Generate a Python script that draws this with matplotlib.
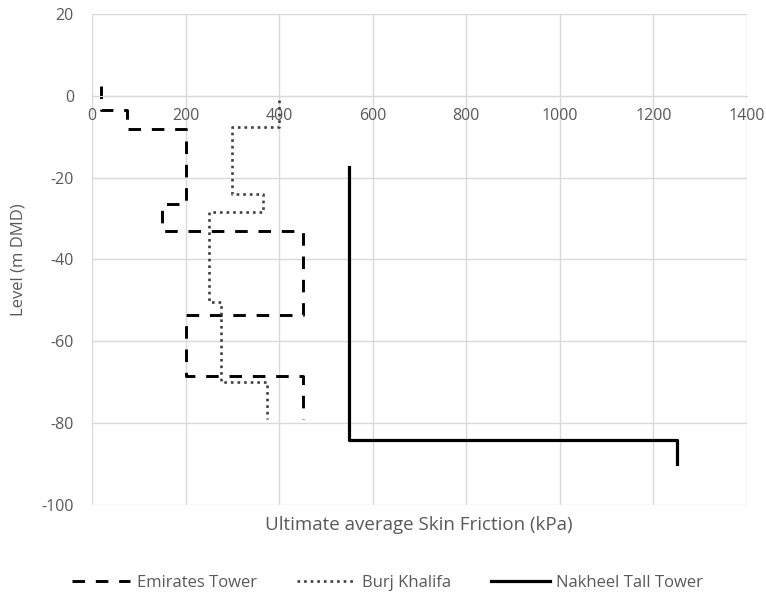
import matplotlib.pyplot as plt

# skin friction profiles (kPa) vs level (m DMD), stepped
emirates_x = [20, 20, 75, 75, 200, 200, 150, 150, 450, 450, 200, 200, 450, 450]
emirates_y = [2.5, -3.5, -3.5, -8, -8, -26.5, -26.5, -33, -33, -53.5, -53.5, -68.5, -68.5, -79]

burj_x = [400, 400, 300, 300, 365, 365, 250, 250, 275, 275, 375, 375]
burj_y = [-1, -7.5, -7.5, -24, -24, -28.5, -28.5, -50.5, -50.5, -70, -70, -79]

nakheel_x = [550, 550, 1250, 1250]
nakheel_y = [-17.5, -84, -84, -90]

grey = "#595959"
grid_c = "#d9d9d9"
plt.rcParams["font.family"] = ["Open Sans", "DejaVu Sans"]
plt.rcParams["axes.unicode_minus"] = False

fig = plt.figure(figsize=(7.66, 5.96), dpi=100)
ax = fig.add_axes([0.1201, 0.1527, 0.8551, 0.8238])

ax.plot(emirates_x, emirates_y, color="black", lw=2.1, dashes=(4.3, 3.7), label="Emirates Tower")
ax.plot(burj_x, burj_y, color="#404040", lw=1.9, dashes=(1.0, 1.5), label="Burj Khalifa")
ax.plot(nakheel_x, nakheel_y, color="black", lw=2.3, label="Nakheel Tall Tower")

ax.set_xlim(0, 1400)
ax.set_ylim(-100, 20)
ax.set_xticks(range(0, 1401, 200))
ax.set_yticks(range(-100, 21, 20))
ax.grid(True, color=grid_c, lw=1)
ax.set_axisbelow(True)
for s in ["top", "right", "left"]:
    ax.spines[s].set_visible(False)
ax.spines["bottom"].set_position(("data", 0))
ax.spines["bottom"].set_color(grid_c)
ax.tick_params(length=0, colors=grey, labelsize=11.5)
ax.tick_params(axis="x", pad=9)
ax.tick_params(axis="y", pad=13)

fig.text(0.024, 0.565, "Level (m DMD)", color=grey, fontsize=12,
         rotation=90, ha="center", va="center")
fig.text(0.547, 0.119, "Ultimate average Skin Friction (kPa)", color=grey,
         fontsize=13.5, ha="center", va="center")

leg = fig.legend(loc="center", bbox_to_anchor=(0.506, 0.022), ncol=3, frameon=False,
                 fontsize=12, handlelength=3.5, handletextpad=0.4, columnspacing=2.4)
for t in leg.get_texts():
    t.set_color(grey)

fig.savefig("out.png", dpi=100)
